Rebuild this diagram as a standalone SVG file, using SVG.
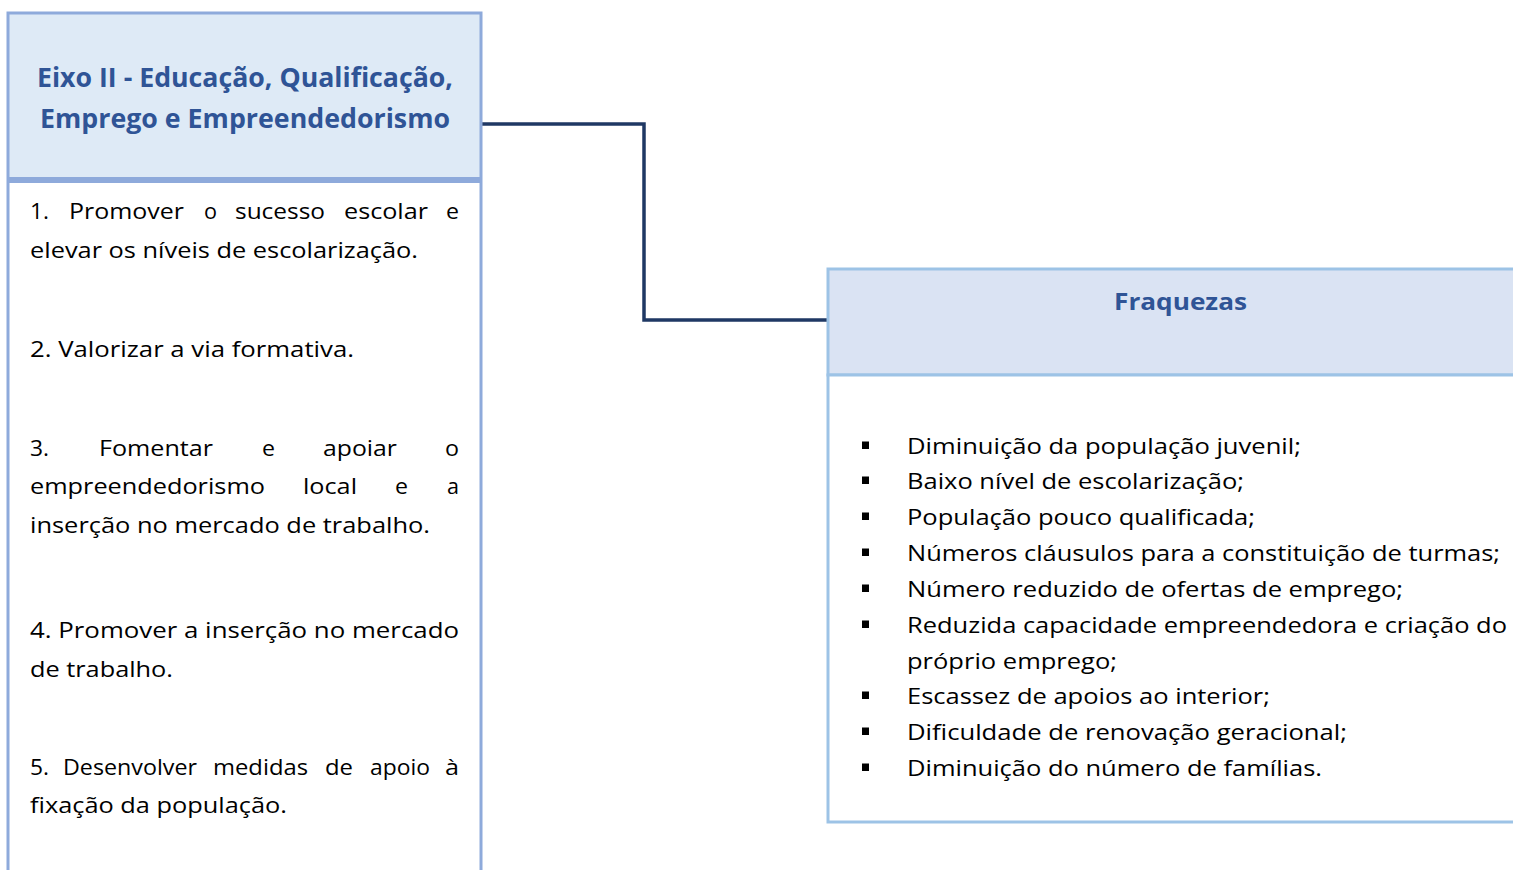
<svg xmlns="http://www.w3.org/2000/svg" width="1513" height="870" viewBox="0 0 1513 870">
<style>
.hdrL{fill:#DEEAF6;stroke:#8EAADB;stroke-width:3}
.bodyL{fill:#FFFFFF;stroke:#8EAADB;stroke-width:3}
.hdrR{fill:#DAE3F3;stroke:#9DC3E6;stroke-width:3}
.bodyR{fill:#FFFFFF;stroke:#9DC3E6;stroke-width:3}
.title{font-family:"Open Sans","Noto Sans","Liberation Sans",sans-serif;font-weight:bold;font-size:26.5px;fill:#2F5496}
.txt{font-family:"Open Sans","Noto Sans","Liberation Sans",sans-serif;font-size:22px;fill:#000000}
.bul{fill:#000000}
.conn{fill:none;stroke:#1F3864;stroke-width:3.5}
</style>
<rect width="1513" height="870" fill="#FFFFFF"/>
<g id="connectors">
<polyline class="conn" points="482,124 644,124 644,320 828,320"/>
</g>
<g id="node-eixo">
<rect class="hdrL" x="8" y="13" width="473" height="165.5"/>
<rect class="bodyL" x="8" y="181.5" width="473" height="700"/>
<text class="title" x="245" y="87" text-anchor="middle" textLength="416" lengthAdjust="spacingAndGlyphs">Eixo II - Educação, Qualificação,</text>
<text class="title" x="245" y="128" text-anchor="middle" textLength="410" lengthAdjust="spacingAndGlyphs">Emprego e Empreendedorismo</text>
<text class="txt" y="219"><tspan x="30" textLength="19" lengthAdjust="spacingAndGlyphs">1.</tspan><tspan x="69" textLength="115" lengthAdjust="spacingAndGlyphs">Promover</tspan><tspan x="204" textLength="13" lengthAdjust="spacingAndGlyphs">o</tspan><tspan x="235" textLength="90" lengthAdjust="spacingAndGlyphs">sucesso</tspan><tspan x="344" textLength="84" lengthAdjust="spacingAndGlyphs">escolar</tspan><tspan x="446" textLength="13" lengthAdjust="spacingAndGlyphs">e</tspan></text>
<text class="txt" x="30" y="258" textLength="388" lengthAdjust="spacingAndGlyphs">elevar os níveis de escolarização.</text>
<text class="txt" x="30" y="357" textLength="324" lengthAdjust="spacingAndGlyphs">2. Valorizar a via formativa.</text>
<text class="txt" y="456"><tspan x="30" textLength="19" lengthAdjust="spacingAndGlyphs">3.</tspan><tspan x="99" textLength="114" lengthAdjust="spacingAndGlyphs">Fomentar</tspan><tspan x="262" textLength="13" lengthAdjust="spacingAndGlyphs">e</tspan><tspan x="323" textLength="74" lengthAdjust="spacingAndGlyphs">apoiar</tspan><tspan x="445" textLength="14" lengthAdjust="spacingAndGlyphs">o</tspan></text>
<text class="txt" y="494"><tspan x="30" textLength="235" lengthAdjust="spacingAndGlyphs">empreendedorismo</tspan><tspan x="303" textLength="54" lengthAdjust="spacingAndGlyphs">local</tspan><tspan x="395" textLength="13" lengthAdjust="spacingAndGlyphs">e</tspan><tspan x="447" textLength="12" lengthAdjust="spacingAndGlyphs">a</tspan></text>
<text class="txt" x="30" y="533" textLength="400" lengthAdjust="spacingAndGlyphs">inserção no mercado de trabalho.</text>
<text class="txt" x="30" y="638" textLength="429" lengthAdjust="spacingAndGlyphs">4. Promover a inserção no mercado</text>
<text class="txt" x="30" y="677" textLength="143" lengthAdjust="spacingAndGlyphs">de trabalho.</text>
<text class="txt" y="775"><tspan x="30" textLength="19" lengthAdjust="spacingAndGlyphs">5.</tspan><tspan x="63" textLength="134" lengthAdjust="spacingAndGlyphs">Desenvolver</tspan><tspan x="213" textLength="95" lengthAdjust="spacingAndGlyphs">medidas</tspan><tspan x="325" textLength="28" lengthAdjust="spacingAndGlyphs">de</tspan><tspan x="370" textLength="60" lengthAdjust="spacingAndGlyphs">apoio</tspan><tspan x="445" textLength="14" lengthAdjust="spacingAndGlyphs">à</tspan></text>
<text class="txt" x="30" y="813" textLength="257" lengthAdjust="spacingAndGlyphs">fixação da população.</text>
</g>
<g id="node-fraquezas">
<rect class="hdrR" x="828" y="269" width="700" height="106"/>
<rect class="bodyR" x="828" y="375" width="700" height="447"/>
<text class="title" x="1180.5" y="310" text-anchor="middle" textLength="133" lengthAdjust="spacingAndGlyphs" style="font-size:24px">Fraquezas</text>
<rect class="bul" x="862" y="441.5" width="7" height="7.5"/>
<rect class="bul" x="862" y="476.5" width="7" height="7.5"/>
<rect class="bul" x="862" y="512.5" width="7" height="7.5"/>
<rect class="bul" x="862" y="548.5" width="7" height="7.5"/>
<rect class="bul" x="862" y="584.5" width="7" height="7.5"/>
<rect class="bul" x="862" y="620.5" width="7" height="7.5"/>
<rect class="bul" x="862" y="691.5" width="7" height="7.5"/>
<rect class="bul" x="862" y="727.5" width="7" height="7.5"/>
<rect class="bul" x="862" y="763.5" width="7" height="7.5"/>
<text class="txt" x="907" y="453.5" textLength="394" lengthAdjust="spacingAndGlyphs">Diminuição da população juvenil;</text>
<text class="txt" x="907" y="488.5" textLength="337" lengthAdjust="spacingAndGlyphs">Baixo nível de escolarização;</text>
<text class="txt" x="907" y="524.5" textLength="348" lengthAdjust="spacingAndGlyphs">População pouco qualificada;</text>
<text class="txt" x="907" y="560.5" textLength="593" lengthAdjust="spacingAndGlyphs">Números cláusulos para a constituição de turmas;</text>
<text class="txt" x="907" y="596.5" textLength="496" lengthAdjust="spacingAndGlyphs">Número reduzido de ofertas de emprego;</text>
<text class="txt" x="907" y="632.5" textLength="600" lengthAdjust="spacingAndGlyphs">Reduzida capacidade empreendedora e criação do</text>
<text class="txt" x="907" y="668.5" textLength="210" lengthAdjust="spacingAndGlyphs">próprio emprego;</text>
<text class="txt" x="907" y="703.5" textLength="363" lengthAdjust="spacingAndGlyphs">Escassez de apoios ao interior;</text>
<text class="txt" x="907" y="739.5" textLength="440" lengthAdjust="spacingAndGlyphs">Dificuldade de renovação geracional;</text>
<text class="txt" x="907" y="775.5" textLength="415" lengthAdjust="spacingAndGlyphs">Diminuição do número de famílias.</text>
</g>
</svg>
